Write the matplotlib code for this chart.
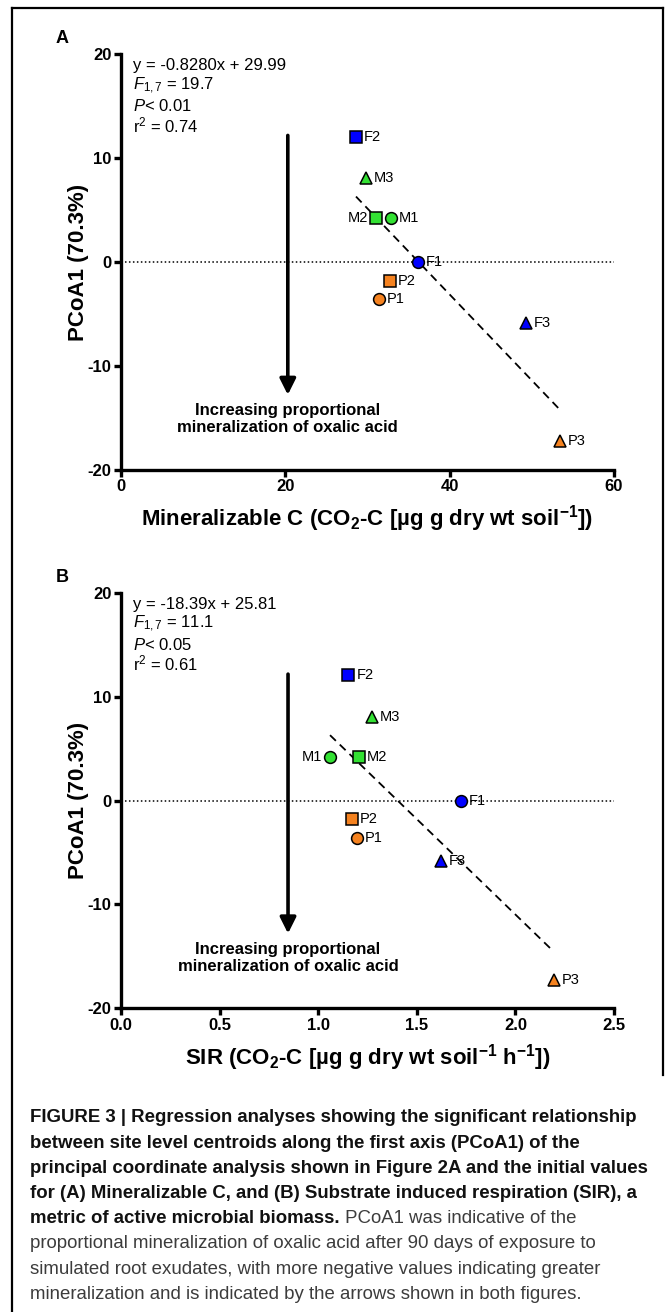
import matplotlib
matplotlib.use('Agg')
import matplotlib.pyplot as plt
from matplotlib.lines import Line2D
from matplotlib import font_manager

plt.rcParams['font.family'] = ['Liberation Sans', 'DejaVu Sans']
plt.rcParams['mathtext.fontset'] = 'custom'
plt.rcParams['mathtext.rm'] = 'Liberation Sans'
plt.rcParams['mathtext.it'] = 'Liberation Sans:italic'
plt.rcParams['mathtext.bf'] = 'Liberation Sans:bold'
plt.rcParams['axes.unicode_minus'] = False

# site level centroids
sites = ['F1', 'F2', 'F3', 'M1', 'M2', 'M3', 'P1', 'P2', 'P3']
pcoa1 = [0.0, 12.08, -5.85, 4.21, 4.21, 8.07, -3.57, -1.80, -17.3]
min_c = [36.1, 28.6, 49.3, 32.8, 31.0, 29.8, 31.4, 32.7, 53.4]
sir = [1.723, 1.153, 1.623, 1.060, 1.208, 1.274, 1.198, 1.171, 2.195]

fit_a = (-0.8280, 29.99)
fit_b = (-18.39, 25.81)
stats_a = ['y = -0.8280x + 29.99', '$F_{1,7}$ = 19.7', '$P$< 0.01', 'r$^2$ = 0.74']
stats_b = ['y = -18.39x + 25.81', '$F_{1,7}$ = 11.1', '$P$< 0.05', 'r$^2$ = 0.61']

xticks_a = [0, 20, 40, 60]
xticks_b = [0.0, 0.5, 1.0, 1.5, 2.0, 2.5]
yticks = [-20, -10, 0, 10, 20]

xlabel_a = 'Mineralizable C (CO$_\\mathbf{2}$-C [µg g dry wt soil$^\\mathbf{-1}$])'
xlabel_b = 'SIR (CO$_\\mathbf{2}$-C [µg g dry wt soil$^\\mathbf{-1}$ h$^\\mathbf{-1}$])'
ylabel = 'PCoA1 (70.3%)'

colors = {'F': '#0000ff', 'M': '#33e133', 'P': '#f5821f'}
markers = {'1': 'o', '2': 's', '3': '^'}

caption_bold = ['FIGURE 3 | Regression analyses showing the significant relationship',
                'between site level centroids along the first axis (PCoA1) of the',
                'principal coordinate analysis shown in Figure 2A and the initial values',
                'for (A) Mineralizable C, and (B) Substrate induced respiration (SIR), a',
                'metric of active microbial biomass.']
caption_rest = [' PCoA1 was indicative of the',
                'proportional mineralization of oxalic acid after 90 days of exposure to',
                'simulated root exudates, with more negative values indicating greater',
                'mineralization and is indicated by the arrows shown in both figures.']

W, H = 671, 1312
fig = plt.figure(figsize=(W / 100, H / 100), dpi=100)


def panel(top_px, xs, xticks, fmt, fit, stats, xlab, arrow_x, left_labels, letter):
    ax = fig.add_axes([121 / W, 1 - (top_px + 415) / H, 493 / W, 415 / H])
    ax.set_xlim(xticks[0], xticks[-1])
    ax.set_ylim(-20, 20)
    for s in ['top', 'right']:
        ax.spines[s].set_visible(False)
    for s in ['left', 'bottom']:
        ax.spines[s].set_linewidth(2.4)
    ax.set_xticks(xticks)
    ax.set_xticklabels([fmt.format(t) for t in xticks])
    ax.set_yticks(yticks)
    ax.tick_params(width=2.4, length=5, labelsize=12, pad=2)
    for lab in ax.get_xticklabels() + ax.get_yticklabels():
        lab.set_fontweight('bold')
    ax.axhline(0, color='k', ls=(0, (1, 1.6)), lw=1.1, zorder=1)

    # regression line over data range
    x0, x1 = min(xs), max(xs)
    ax.plot([x0, x1], [fit[0] * x0 + fit[1], fit[0] * x1 + fit[1]],
            color='k', ls=(0, (4.5, 3)), lw=1.3, zorder=2)

    for name, x, y in zip(sites, xs, pcoa1):
        ax.plot(x, y, marker=markers[name[1]], ms=8.5 if name[1] != '3' else 9,
                mfc=colors[name[0]], mec='k', mew=1.1, ls='none', zorder=3)
        if name in left_labels:
            ax.annotate(name, (x, y), xytext=(-8, 0), textcoords='offset pixels',
                        ha='right', va='center', fontsize=10.5)
        else:
            ax.annotate(name, (x, y), xytext=(8, 0), textcoords='offset pixels',
                        ha='left', va='center', fontsize=10.5)

    for i, line in enumerate(stats):
        ax.text(0.024, [0.962, 0.916, 0.864, 0.813][i], line, transform=ax.transAxes,
                fontsize=12, va='baseline', ha='left')

    ax.annotate('', xy=(arrow_x, -12.8), xytext=(arrow_x, 12.2),
                arrowprops=dict(arrowstyle='-|>', color='k', lw=2.6,
                                mutation_scale=24, shrinkA=0, shrinkB=0))
    ax.text(arrow_x, -14.3, 'Increasing proportional', ha='center', va='center',
            fontsize=12, fontweight='bold')
    ax.text(arrow_x, -16.0, 'mineralization of oxalic acid', ha='center', va='center',
            fontsize=12, fontweight='bold')

    ax.set_xlabel(xlab, fontsize=16, fontweight='bold')
    ax.xaxis.set_label_coords(0.5, -0.082)
    ax.xaxis.label.set_va('top')
    ax.set_ylabel(ylabel, fontsize=16, fontweight='bold')
    ax.yaxis.set_label_coords(-0.064, 0.5)
    fig.text(56 / W, 1 - (top_px - 16) / H, letter, fontsize=13, fontweight='bold',
             ha='left', va='center')
    return ax


panel(54.5, min_c, xticks_a, '{:d}', fit_a, stats_a, xlabel_a, 20.3, ['M2'], 'A')
panel(593.2, sir, xticks_b, '{:.1f}', fit_b, stats_b, xlabel_b, 0.847, ['M1'], 'B')

# caption
try:
    font_manager.findfont('Liberation Sans Narrow', fallback_to_default=False)
    cap_family = ['Liberation Sans Narrow', 'Liberation Sans']
    cap_size = 16.2
except Exception:
    cap_family = ['Liberation Sans']
    cap_size = 13.4

y0, dy = 1118, 25.2
for i, line in enumerate(caption_bold):
    t = fig.text(30 / W, 1 - (y0 + i * dy) / H, line, family=cap_family, fontsize=cap_size,
                 fontweight='bold', va='center', ha='left', color='#111111')
fig.canvas.draw()
bb = t.get_window_extent(fig.canvas.get_renderer())
for j, line in enumerate(caption_rest):
    x = bb.x1 / W if j == 0 else 30 / W
    fig.text(x, 1 - (y0 + (4 + j) * dy) / H, line, family=cap_family,
             fontsize=cap_size, va='center', ha='left', color='#3c3c3c')

# frame
fig.add_artist(Line2D([12 / W, 12 / W], [0, 1 - 8 / H], color='k', lw=1.6))
fig.add_artist(Line2D([12 / W, 663 / W], [1 - 8 / H, 1 - 8 / H], color='k', lw=1.6))
fig.add_artist(Line2D([663 / W, 663 / W], [1 - 1075 / H, 1 - 8 / H], color='k', lw=1.6))

fig.savefig('out.png', dpi=100)
